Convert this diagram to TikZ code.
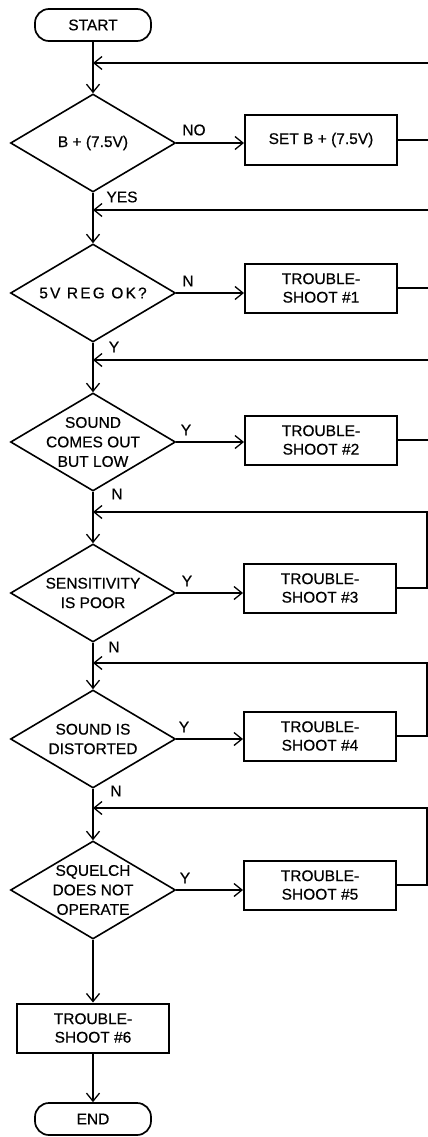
\documentclass[tikz,border=0pt]{standalone}
\usepackage{fontspec}
\setmainfont{Liberation Sans}[FakeBold=0.5]
\newfontfamily\spacedfont[LetterSpace=14,FakeBold=0.5]{Liberation Sans}
\usetikzlibrary{shapes.geometric,arrows.meta}
\tikzset{
  conn/.style={line width=1.3pt},
  arr/.style={conn,-{Straight Barb[length=8pt,width=13pt,line width=1.3pt]}},
  dia/.style={draw,diamond,minimum width=165pt,minimum height=98pt,inner sep=0pt,line width=1.6pt},
  stepbox/.style={draw,rectangle,minimum width=152pt,minimum height=49pt,line width=2pt,align=center,inner sep=0pt},
  term/.style={draw,rounded corners=14pt,minimum width=116pt,minimum height=32pt,line width=1.7pt,inner sep=0pt},
  lab/.style={inner sep=0pt},
  txt/.style={align=center,inner sep=0pt,font=\fontsize{15.5pt}{19.5pt}\selectfont}
}
\begin{document}
\begin{tikzpicture}[x=1pt,y=-1pt,font=\fontsize{15.5pt}{18.5pt}\selectfont]
\useasboundingbox (0,0) rectangle (428,1137);
\coordinate (edge) at (428,0);
\coordinate (rx) at (427,0);
% terminals
\node[term] (start) at (93,25) {START};
\node[term] (end) at (93,1119) {END};
% diamonds
\node[dia] (d1) at (93,143) {};
\node[txt] (d1t) at (d1) {B + (7.5V)};
\node[dia] (d2) at (93,293) {};
\node[txt] (d2t) at (d2) {\spacedfont 5V REG OK?};
\node[dia] (d3) at (93,442) {};
\node[txt] (d3t) at (d3) {SOUND\\COMES OUT\\BUT LOW};
\node[dia] (d4) at (93,593) {};
\node[txt] (d4t) at (d4) {SENSITIVITY\\IS POOR};
\node[dia] (d5) at (93,739) {};
\node[txt] (d5t) at (d5) {SOUND IS\\DISTORTED};
\node[dia] (d6) at (93,890) {};
\node[txt] (d6t) at (d6) {SQUELCH\\DOES NOT\\OPERATE};
% boxes
\node[stepbox] (sb) at (321,140) {SET B + (7.5V)};
\node[stepbox] (t1) at (321,288) {TROUBLE-\\SHOOT \#1};
\node[stepbox] (t2) at (321,440) {TROUBLE-\\SHOOT \#2};
\node[stepbox] (t3) at (320,588) {TROUBLE-\\SHOOT \#3};
\node[stepbox] (t4) at (320,736) {TROUBLE-\\SHOOT \#4};
\node[stepbox] (t5) at (320,885) {TROUBLE-\\SHOOT \#5};
\node[stepbox] (t6) at (93,1028) {TROUBLE-\\SHOOT \#6};
% junctions on the main line
\coordinate (j0) at (93,63);
\coordinate (j1) at (93,210);
\coordinate (j2) at (93,360);
\coordinate (j3) at (93,512);
\coordinate (j4) at (93,663);
\coordinate (j5) at (93,808);
% main flow
\draw[arr] (start.south) -- (d1.north);
\draw[arr] (d1.south) -- (d2.north);
\draw[arr] (d2.south) -- (d3.north);
\draw[arr] (d3.south) -- (d4.north);
\draw[arr] (d4.south) -- (d5.north);
\draw[arr] (d5.south) -- (d6.north);
\draw[arr] (d6.south) -- (t6.north);
\draw[arr] (t6.south) -- (end.north);
% branches
\draw[arr] (d1.east) -- (d1.east -| sb.west);
\draw[arr] (d2.east) -- (d2.east -| t1.west);
\draw[arr] (d3.east) -- (d3.east -| t2.west);
\draw[arr] (d4.east) -- (d4.east -| t3.west);
\draw[arr] (d5.east) -- (d5.east -| t4.west);
\draw[arr] (d6.east) -- (d6.east -| t5.west);
% returns (top ones run off the page edge)
\draw[conn] (sb.east) -- (sb.east -| edge);
\draw[conn] (t1.east) -- (t1.east -| edge);
\draw[conn] (t2.east) -- (t2.east -| edge);
\draw[arr] (j0 -| edge) -- (j0);
\draw[arr] (j1 -| edge) -- (j1);
\draw[arr] (j2 -| edge) -- (j2);
\draw[arr] (t3.east) -| (j3 -| rx) -- (j3);
\draw[arr] (t4.east) -| (j4 -| rx) -- (j4);
\draw[arr] (t5.east) -| (j5 -| rx) -- (j5);
% labels
\node[lab] (l1) at (194,130) {NO};
\node[lab] (l2) at (122,197) {YES};
\node[lab] (l3) at (188,281) {N};
\node[lab] (l4) at (114,347) {Y};
\node[lab] (l5) at (186,430) {Y};
\node[lab] (l6) at (117,494) {N};
\node[lab] (l7) at (187,581) {Y};
\node[lab] (l8) at (114,647) {N};
\node[lab] (l9) at (184,727) {Y};
\node[lab] (l10) at (116,791) {N};
\node[lab] (l11) at (185,878) {Y};
\end{tikzpicture}
\end{document}
